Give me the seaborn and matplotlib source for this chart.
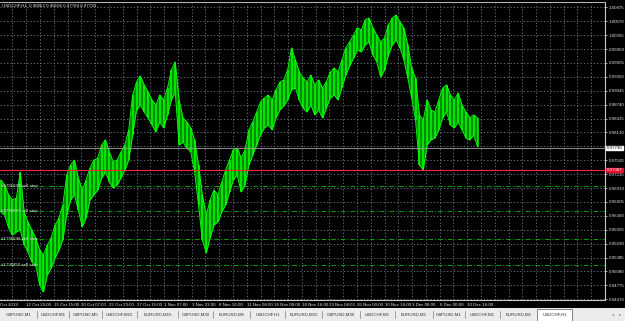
import numpy as np
import pandas as pd
import seaborn as sns
import matplotlib
matplotlib.use("Agg")
import matplotlib.pyplot as plt
from matplotlib.patches import Rectangle

# ---------------- data ----------------
bar_index = np.arange(2, 1114, 9)  # H1 bar number of each sampled column

high = [0.97087, 0.96978, 0.96758, 0.96649, 0.96692, 0.97263, 0.96385, 0.96166, 0.95990, 0.95815,
        0.95551, 0.95442, 0.95661, 0.95815, 0.96100, 0.96254, 0.96539, 0.97197, 0.97417, 0.97526,
        0.97131, 0.96868, 0.97087, 0.97351, 0.97526, 0.97570, 0.97855, 0.97965, 0.97702, 0.97482,
        0.97526, 0.97702, 0.97855, 0.98185, 0.98953, 0.99238, 0.99369, 0.99172, 0.99018, 0.98843,
        0.98733, 0.98953, 0.98843, 0.99106, 0.99501, 0.99677, 0.98843, 0.98448, 0.98360, 0.98228,
        0.97965, 0.97417, 0.96758, 0.96319, 0.96649, 0.96868, 0.96758, 0.97044, 0.97307, 0.97526,
        0.97746, 0.97790, 0.97570, 0.97746, 0.98185, 0.98360, 0.98579, 0.98799, 0.98887, 0.98953,
        0.98843, 0.99062, 0.99238, 0.99282, 0.99501, 0.99984, 0.99720, 0.99457, 0.99326, 0.99238,
        0.99391, 0.99172, 0.99282, 0.99106, 0.99238, 0.99457, 0.99545, 0.99457, 0.99720, 0.99984,
        1.00115, 1.00269, 1.00423, 1.00379, 1.00598, 1.00642, 1.00423, 1.00269, 1.00115, 1.00203,
        1.00488, 1.00642, 1.00708, 1.00554, 1.00423, 1.00050, 0.99545, 0.99326, 0.98514, 0.98404,
        0.98843, 0.98623, 0.98579, 0.98843, 0.99106, 0.99172, 0.98953, 0.98843, 0.98996, 0.98733,
        0.98579, 0.98448, 0.98514, 0.98448]

low = [0.96385, 0.96319, 0.96034, 0.95881, 0.95946, 0.95990, 0.95661, 0.95508, 0.95288, 0.95222,
       0.94784, 0.94630, 0.95003, 0.95157, 0.95376, 0.95551, 0.95771, 0.96319, 0.96649, 0.96758,
       0.96429, 0.96056, 0.96254, 0.96649, 0.96758, 0.96868, 0.97131, 0.97263, 0.97044, 0.96912,
       0.96978, 0.97131, 0.97307, 0.97526, 0.98075, 0.98623, 0.98733, 0.98579, 0.98448, 0.98294,
       0.98141, 0.98360, 0.98228, 0.98514, 0.98843, 0.99018, 0.97855, 0.97921, 0.97790, 0.97702,
       0.97263, 0.96539, 0.95771, 0.95486, 0.95815, 0.96100, 0.96166, 0.96385, 0.96539, 0.96824,
       0.97087, 0.97197, 0.96824, 0.96978, 0.97417, 0.97636, 0.97855, 0.98075, 0.98228, 0.98294,
       0.98185, 0.98448, 0.98623, 0.98711, 0.98843, 0.99062, 0.99106, 0.98843, 0.98667, 0.98579,
       0.98733, 0.98514, 0.98623, 0.98448, 0.98667, 0.98887, 0.98953, 0.98843, 0.99106, 0.99391,
       0.99589, 0.99764, 0.99940, 0.99896, 1.00050, 1.00115, 0.99830, 0.99677, 0.99347, 0.99501,
       0.99830, 1.00050, 1.00159, 0.99984, 0.99720, 0.99326, 0.98887, 0.98404, 0.97417, 0.97307,
       0.97855, 0.97965, 0.98009, 0.98185, 0.98448, 0.98579, 0.98294, 0.98228, 0.98360, 0.98185,
       0.98009, 0.97965, 0.98075, 0.97812]

price_ticks = [0.94470, 0.94775, 0.95080, 0.95385, 0.95690, 0.95995, 0.96300, 0.96605, 0.96910,
               0.97215, 0.97520, 0.97825, 0.98130, 0.98435, 0.98740, 0.99045, 0.99350, 0.99655,
               0.99960, 1.00265, 1.00570, 1.00875]

date_labels = ["Oct 2019", "12 Oct 23:00", "15 Oct 15:00", "20 Oct 07:00", "22 Oct 23:00",
               "27 Oct 15:00", "1 Nov 07:00", "3 Nov 23:00", "8 Nov 16:00", "11 Nov 08:00",
               "16 Nov 00:00", "18 Nov 16:00", "23 Nov 08:00", "26 Nov 00:00", "30 Nov 16:00",
               "3 Dec 08:00", "6 Dec 00:00", "10 Dec 16:00"]
date_bars = [0] + [61 + 64 * j for j in range(17)]
grid_bars = [29 + 32 * k for k in range(44)]

order_levels = [0.96956, 0.96408, 0.95793, 0.95223]
order_labels = ["#1795849 sell stop", "#1795847 sell stop", "#1795848 sell stop", "#1795850 sell stop"]
bid_price = 0.97790
red_level = 0.97307
title_text = "USDCHF,H1  0.98062 0.98106 0.97784 0.97790"

tabs = ["GBPUSD,M1", "USDCHF,M1", "GBPUSD,M5", "USDCHF,M15", "EURUSD,M15", "GBPUSD,M30",
        "EURUSD,M5", "USDCHF,H1", "EURUSD,M15", "GBPUSD,M30", "USDCHF,M1", "EURUSD,M1",
        "GBPUSD,M1", "USDCHF,M1", "EURUSD,M1", "USDCHF,H1"]
tab_edges = [0, 37, 69, 102, 137, 178, 213, 250, 285, 322, 360, 395, 433, 465, 500, 537, 572]

df = pd.DataFrame({"bar": bar_index, "high": high, "low": low})

# ---------------- figure ----------------
sns.set_theme(style="dark")
plt.rcParams["font.family"] = ["Liberation Sans", "DejaVu Sans"]
FS = 3.2
W, H = 625, 321
fig = plt.figure(figsize=(W / 100, H / 100), dpi=100, facecolor="black")
ax = fig.add_axes([0, 21 / H, 605 / W, 297 / H], facecolor="black")

ax.fill_between(df["bar"], df["low"], df["high"], color="#008c00", lw=0)
ax.vlines(df["bar"], df["low"], df["high"], color="#00ff00", lw=1.1)
sns.lineplot(data=df, x="bar", y="high", ax=ax, color="#00ff00", lw=0.7)
sns.lineplot(data=df, x="bar", y="low", ax=ax, color="#00ff00", lw=0.7)

ax.set_xlim(0, 605 / 0.434)
ax.set_ylim(0.94454, 1.00971)

# grid (the 0.97825 label sits under the bid box, as in the terminal)
ax.set_yticks(price_ticks)
ax.set_yticklabels(["" if abs(p - bid_price) < 0.0008 else f"{p:.5f}" for p in price_ticks])
ax.set_xticks(date_bars)
ax.set_xticklabels(date_labels)
ax.set_xticks(grid_bars, minor=True)
ax.grid(False)
for p in price_ticks:
    ax.axhline(p, color="#708090", lw=0.6, ls=(0, (1.5, 2.5)), zorder=0)
for b in grid_bars:
    ax.axvline(b, color="#708090", lw=0.6, ls=(0, (1.5, 2.5)), zorder=0)

ax.yaxis.tick_right()
ax.tick_params(axis="y", which="both", colors="#e0e0e0", labelsize=FS, length=1.5, width=0.5, pad=1)
ax.tick_params(axis="x", which="major", colors="#e0e0e0", labelsize=FS, length=1.5, width=0.5, pad=1)
ax.tick_params(axis="x", which="minor", length=0)
for lab in ax.get_xticklabels():
    lab.set_ha("left")
for s in ["left", "top"]:
    ax.spines[s].set_visible(False)
for s in ["right", "bottom"]:
    ax.spines[s].set_color("#c8c8c8")
    ax.spines[s].set_linewidth(0.8)
ax.set_xlabel("")
ax.set_ylabel("")

# order lines
for lvl, lab in zip(order_levels, order_labels):
    ax.axhline(lvl, color="#00a000", lw=0.7, ls=(0, (5, 2, 1, 2)), zorder=1)
    ax.text(0.002, lvl, lab, transform=ax.get_yaxis_transform(), color="#e8e8e8",
            fontsize=FS, va="center", ha="left", zorder=4)

# bid and red lines
ax.axhline(bid_price, color="#a0a0a0", lw=0.6, zorder=2)
ax.axhline(red_level, color="#ff2040", lw=0.8, zorder=2)
ax.annotate(f"{bid_price:.5f}", xy=(1.0, bid_price), xycoords=ax.get_yaxis_transform(),
            xytext=(1.2, 0), textcoords="offset points", fontsize=FS, color="black",
            va="center", ha="left", annotation_clip=False,
            bbox=dict(boxstyle="square,pad=0.1", fc="white", ec="white"))
ax.annotate(f"{red_level:.5f}", xy=(1.0, red_level), xycoords=ax.get_yaxis_transform(),
            xytext=(1.2, 0), textcoords="offset points", fontsize=FS, color="white",
            va="center", ha="left", annotation_clip=False,
            bbox=dict(boxstyle="square,pad=0.1", fc="#e0102e", ec="#e0102e"))

# title
fig.text(2 / W, 1 - 5.5 / H, title_text, color="#e8e8e8", fontsize=FS, va="center", ha="left")
fig.add_artist(plt.Line2D([0, 605 / W], [1 - 1.5 / H, 1 - 1.5 / H], color="#b0b0b0", lw=0.8))

# tab strip
tax = fig.add_axes([0, 0, 1, 13 / H], facecolor="#ececec")
tax.set_xlim(0, W)
tax.set_ylim(0, 13)
tax.axis("off")
tax.add_patch(Rectangle((0, 0), W, 13, fc="#ececec", ec="none"))
for i, name in enumerate(tabs):
    x0, x1 = tab_edges[i], tab_edges[i + 1]
    if i == len(tabs) - 1:
        tax.add_patch(Rectangle((x0, 0.5), x1 - x0, 12, fc="white", ec="#707070", lw=0.6))
    else:
        tax.plot([x1, x1], [3, 10], color="#909090", lw=0.6)
    tax.text((x0 + x1) / 2, 6.5, name, fontsize=FS, color="#303030", ha="center", va="center")
tax.text(613, 6.5, "\u25c2", fontsize=FS, color="#808080", ha="center", va="center",
         family="DejaVu Sans")
tax.text(620, 6.5, "\u25b8", fontsize=FS, color="#808080", ha="center", va="center",
         family="DejaVu Sans")

fig.savefig("out.png", dpi=100, facecolor="black")
